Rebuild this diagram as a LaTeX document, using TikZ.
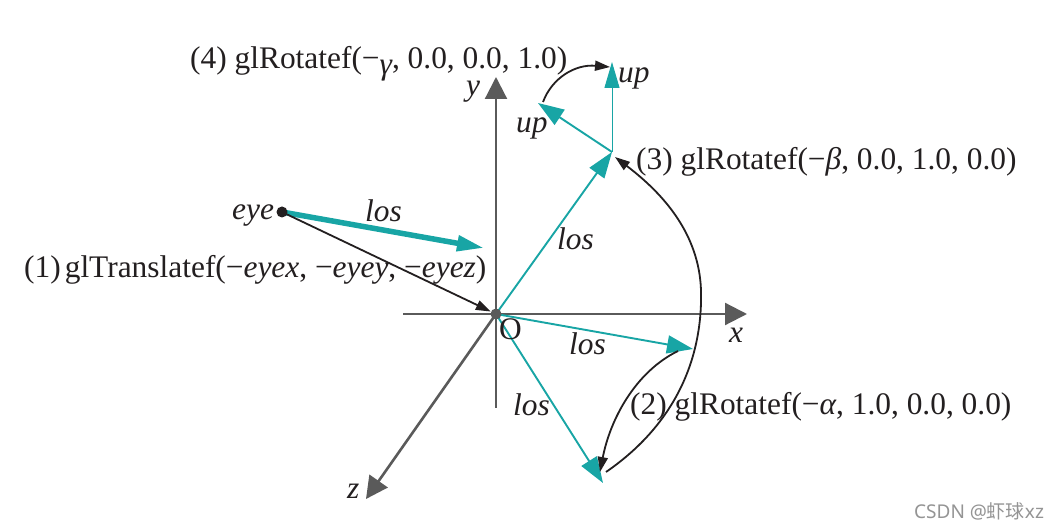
\documentclass[tikz,border=0pt]{standalone}
\usepackage{fontspec}
\setmainfont{Liberation Serif}
\newfontfamily\cjkf{Noto Sans CJK SC}
\usetikzlibrary{arrows.meta,backgrounds}
\definecolor{teal1}{HTML}{18A5A5}
\definecolor{axisg}{HTML}{5A5A5A}
\definecolor{inkk}{HTML}{231F20}
\tikzset{
 axisline/.style={draw=axisg,line width=2.2pt},
 axishead/.style={-{Triangle[length=22pt,width=22pt]}},
 tealline/.style={draw=teal1,line width=1.9pt,-{Triangle[length=26pt,width=18pt]}},
 tealthin/.style={draw=teal1,line width=1pt,-{Triangle[length=26pt,width=15pt]}},
 curve/.style={draw=inkk,line width=1.8pt,-{Triangle[length=15pt,width=10pt]}},
 lab/.style={inner sep=0pt,text=inkk,font=\fontsize{31.4}{31.4}\selectfont,anchor=base west},
 dotn/.style={circle,inner sep=0pt,minimum size=11pt},
}
\begin{document}
\begin{tikzpicture}[x=1pt,y=-1pt]
\useasboundingbox (0,0) rectangle (1061,529);
\coordinate (yb) at (496,408); \coordinate (yt) at (496,77);
\coordinate (xb) at (403,314); \coordinate (xt) at (747,314);
\coordinate (zt) at (366,499);
\coordinate (a) at (612,152);
\coordinate (up1) at (538,103); \coordinate (up2) at (612,62);
\coordinate (b) at (693,349); \coordinate (c) at (603,483);
\coordinate (lose) at (484,248);
\node[dotn,fill=axisg] (O) at (496,314) {};
\node[dotn,fill=inkk] (eye) at (282,212) {};
\begin{scope}[on background layer]
\fill[white] (0,0) rectangle (1061,529);
% axes
\draw[axisline,axishead,axisg] (yb) -- (yt);
\draw[axisline,axishead,axisg] (xb) -- (xt);
\draw[axisline,axishead,axisg,line width=2.6pt] (O.center) -- (zt);
% teal vectors
\draw[tealline] (O.center) -- (a);
\draw[tealline] (O.center) -- (b);
\draw[tealline] (O.center) -- (c);
\draw[tealline] (a) -- (up1);
\draw[tealthin] (a) -- (up2);
\draw[draw=teal1,line width=5.5pt,-{Triangle[length=27pt,width=15pt]}] (eye.center) -- (lose);
% black
\draw[curve] (eye.center) -- (O);
\coordinate (c3s) at (606,472); \coordinate (c3e) at (615,157);
\draw[curve] (c3s) .. controls (670,428) and (703,365) .. (701,290) .. controls (699,235) and (665,195) .. (c3e);
\coordinate (c2s) at (678,351); \coordinate (c2e) at (600,472);
\draw[curve] (c2s) .. controls (635,372) and (610,420) .. (c2e);
\coordinate (c4s) at (543,102); \coordinate (c4e) at (610,67);
\draw[curve] (c4s) .. controls (552,78) and (575,64) .. (c4e);
\end{scope}
% labels
\node[lab] (t4) at (190,69) {(4) glRotatef(−\raisebox{-6pt}{\itshape γ}, 0.0, 0.0, 1.0)};
\node[lab] (t3) at (636,170) {(3) glRotatef(−\textit{β}, 0.0, 1.0, 0.0)};
\node[lab] (t2) at (630,415) {(2) glRotatef(−\textit{α}, 1.0, 0.0, 0.0)};
\node[lab] (t1) at (24,278) {(1)\hspace{4pt}glTranslatef(−\textit{eyex}, −\textit{eyey}, −\textit{eyez})};
\node[lab] (ly) at (466,96) {\textit{y}};
\node[lab] (lx) at (729,343) {\textit{x}};
\node[lab] (lz) at (347,498) {\textit{z}};
\node[lab] (lO) at (499,340) {O};
\node[lab] (leye) at (232,220) {\textit{eye}};
\node[lab] (lu1) at (618,83) {\textit{up}};
\node[lab] (lu2) at (516,133) {\textit{up}};
\node[lab] (l1) at (365,222) {\textit{los}};
\node[lab] (l2) at (557,250) {\textit{los}};
\node[lab] (l3) at (569,355) {\textit{los}};
\node[lab] (l4) at (513,416) {\textit{los}};
\node[inner sep=0pt,anchor=base west,text=black!42,font=\fontsize{19}{19}\selectfont] (wm) at (914,518) {\fontspec{Noto Sans}CSDN @{\cjkf 虾球}xz};
\end{tikzpicture}
\end{document}
